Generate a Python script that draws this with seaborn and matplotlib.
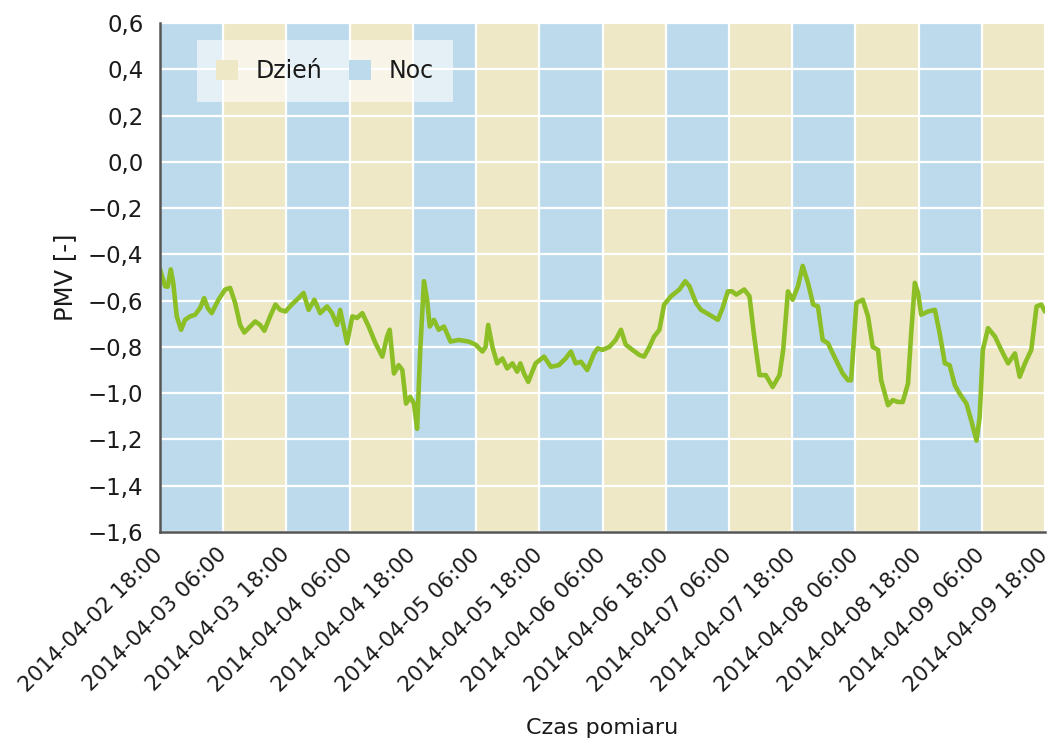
import numpy as np
import pandas as pd
import matplotlib
matplotlib.use("Agg")
import matplotlib.pyplot as plt
from matplotlib.patches import Patch
import seaborn as sns

# ---- data ----
start = "2014-04-02 18:00"
hours = [0.0, 0.95, 1.46, 2.03, 2.5, 3.17, 4.0, 4.75, 5.7, 6.66, 7.6, 8.37, 9.06, 9.8,
         11.1, 12.36, 13.3, 14.26, 15.2, 16.0, 17.1, 18.07, 19.0, 19.8, 20.9, 21.9, 22.8,
         23.8, 25.0, 26.3, 27.25, 28.2, 29.3, 30.4, 31.7, 32.65, 33.6, 34.2, 35.5, 36.5,
         37.4, 38.4, 39.6, 40.9, 42.2, 43.1, 43.6, 44.4, 45.3, 46.0, 46.7, 47.5, 48.2, 48.8,
         49.4, 50.1, 50.7, 51.2, 52.0, 52.6, 52.9, 53.9, 55.15, 56.7, 58.6, 59.9, 61.2,
         61.8, 62.3, 63.1, 64.0, 65.0, 65.9, 66.9, 67.8, 68.4, 69.1, 69.9, 71.3, 72.9, 74.2,
         75.7, 77.0, 78.0, 78.9, 79.9, 81.1, 82.4, 83.1, 84.0, 85.3, 86.5, 87.5, 88.4, 89.7,
         91.0, 91.9, 92.9, 93.8, 94.8, 95.7, 97.0, 98.6, 99.7, 100.5, 101.75, 102.7, 104.3,
         105.9, 106.8, 107.8, 108.6, 109.4, 110.9, 111.9, 112.8, 113.8, 115.0, 116.3, 117.6,
         118.3, 119.2, 120.1, 121.1, 122.0, 123.0, 124.0, 124.9, 125.8, 126.8, 128.0, 129.6,
         130.6, 131.2, 132.2, 133.4, 134.4, 135.3, 136.3, 136.9, 138.2, 139.1, 140.1, 141.0,
         142.0, 142.6, 143.3, 143.9, 144.5, 145.8, 147.1, 148.0, 149.0, 149.9, 150.9, 151.8,
         153.1, 154.0, 155.0, 155.6, 156.2, 157.2, 158.5, 159.7, 161.0, 162.3, 163.2, 164.2,
         165.4, 166.4, 167.3, 168.0]
pmv = [-0.465, -0.538, -0.54, -0.465, -0.523, -0.668, -0.726, -0.683, -0.668, -0.661, -0.632,
       -0.589, -0.632, -0.654, -0.596, -0.552, -0.545, -0.61, -0.705, -0.738, -0.712, -0.69,
       -0.705, -0.73, -0.668, -0.617, -0.64, -0.647, -0.617, -0.589, -0.567, -0.64, -0.596,
       -0.654, -0.625, -0.654, -0.705, -0.64, -0.784, -0.668, -0.675, -0.654, -0.712, -0.784,
       -0.842, -0.755, -0.726, -0.915, -0.879, -0.9, -1.045, -1.016, -1.045, -1.154, -0.813,
       -0.516, -0.596, -0.712, -0.683, -0.712, -0.726, -0.712, -0.777, -0.77, -0.777, -0.79,
       -0.82, -0.8, -0.705, -0.8, -0.871, -0.85, -0.893, -0.871, -0.907, -0.871, -0.915,
       -0.951, -0.871, -0.842, -0.886, -0.879, -0.85, -0.82, -0.871, -0.864, -0.9, -0.828,
       -0.806, -0.813, -0.8, -0.77, -0.726, -0.79, -0.813, -0.835, -0.842, -0.8, -0.755,
       -0.726, -0.617, -0.581, -0.552, -0.516, -0.538, -0.61, -0.64, -0.661, -0.683, -0.632,
       -0.56, -0.56, -0.574, -0.552, -0.581, -0.755, -0.922, -0.922, -0.973, -0.922, -0.813,
       -0.56, -0.596, -0.538, -0.45, -0.523, -0.617, -0.625, -0.77, -0.784, -0.842, -0.915,
       -0.944, -0.944, -0.61, -0.596, -0.668, -0.8, -0.813, -0.944, -1.052, -1.03, -1.038,
       -1.038, -0.958, -0.74, -0.523, -0.567, -0.661, -0.647, -0.64, -0.74, -0.871, -0.879,
       -0.966, -1.002, -1.045, -1.118, -1.205, -1.103, -0.813, -0.719, -0.755, -0.813,
       -0.871, -0.828, -0.929, -0.871, -0.813, -0.625, -0.617, -0.647]
x_ticks = ["2014-04-02 18:00", "2014-04-03 06:00", "2014-04-03 18:00", "2014-04-04 06:00",
           "2014-04-04 18:00", "2014-04-05 06:00", "2014-04-05 18:00", "2014-04-06 06:00",
           "2014-04-06 18:00", "2014-04-07 06:00", "2014-04-07 18:00", "2014-04-08 06:00",
           "2014-04-08 18:00", "2014-04-09 06:00", "2014-04-09 18:00"]
y_ticks = [-1.6, -1.4, -1.2, -1.0, -0.8, -0.6, -0.4, -0.2, 0.0, 0.2, 0.4, 0.6]
y_ticklabels = ["−1,6", "−1,4", "−1,2", "−1,0", "−0,8", "−0,6", "−0,4", "−0,2",
                "0,0", "0,2", "0,4", "0,6"]
band_labels = ["Dzień", "Noc"]

# ---- style ----
sns.set_style("white")
plt.rcParams["font.family"] = ["DejaVu Sans"]
TXT = "#1a1a1a"
BLUE = "#BCDAEB"
YELLOW = "#EEE8C6"
GREEN = "#8CBE26"
SPINE = "#555555"

df = pd.DataFrame({"time": pd.Timestamp(start) + pd.to_timedelta(hours, unit="h"),
                   "pmv": pmv})
tick_times = pd.to_datetime(x_ticks)

fig = plt.figure(figsize=(10.55, 7.51), dpi=100)
ax = fig.add_axes([0.1517, 0.2916, 0.9905 - 0.1517, 0.9694 - 0.2916])

# night/day bands
for i in range(len(tick_times) - 1):
    col = BLUE if i % 2 == 0 else YELLOW
    ax.axvspan(tick_times[i], tick_times[i + 1], color=col, lw=0, zorder=0)

# white grid
for t in tick_times:
    ax.axvline(t, color="white", lw=1.6, zorder=1)
for y in y_ticks:
    ax.axhline(y, color="white", lw=1.6, zorder=1)

sns.lineplot(data=df, x="time", y="pmv", ax=ax, color=GREEN, lw=3.3, zorder=3,
             solid_joinstyle="round", solid_capstyle="round")

ax.set_xlim(tick_times[0], tick_times[-1])
ax.set_ylim(-1.6, 0.6)
ax.set_xticks(tick_times)
ax.set_xticklabels(x_ticks, rotation=45, ha="right", va="center", rotation_mode="anchor",
                   fontsize=15.5, color=TXT)
ax.set_yticks(y_ticks)
ax.set_yticklabels(y_ticklabels, fontsize=16.5, color=TXT)
ax.tick_params(axis="both", direction="in", length=8, width=1.5, color=SPINE)
ax.tick_params(axis="y", pad=12)
ax.tick_params(axis="x", pad=14)

for s in ["top", "right"]:
    ax.spines[s].set_visible(False)
for s in ["left", "bottom"]:
    ax.spines[s].set_color(SPINE)
    ax.spines[s].set_linewidth(1.8)
    ax.spines[s].set_zorder(4)

ax.set_xlabel("Czas pomiaru", fontsize=16, color=TXT, labelpad=16)
ax.set_ylabel("PMV [-]", fontsize=17.5, color=TXT, labelpad=8)

handles = [Patch(facecolor=YELLOW, edgecolor="none"), Patch(facecolor=BLUE, edgecolor="none")]
leg = ax.legend(handles, band_labels, loc="upper left", bbox_to_anchor=(0.0418, 0.9666),
                borderaxespad=0, ncol=2, frameon=True, fontsize=17, handlelength=0.95,
                handleheight=0.95, columnspacing=1.1, handletextpad=0.75, borderpad=0.8,
                fancybox=False, labelcolor=TXT)
leg.get_frame().set_facecolor("white")
leg.get_frame().set_alpha(0.6)
leg.get_frame().set_edgecolor("none")
leg.set_zorder(5)

fig.savefig("out.png", dpi=100)
